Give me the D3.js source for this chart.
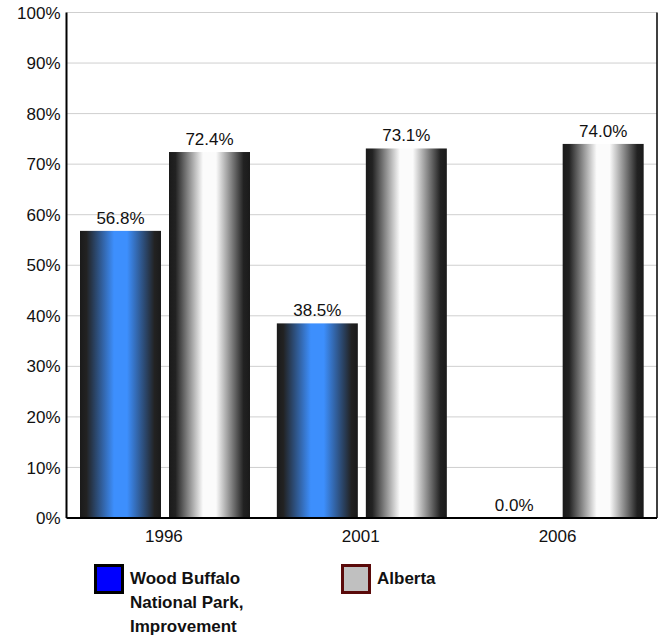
<!DOCTYPE html>
<meta charset="utf-8">
<script src="https://d3js.org/d3.v7.min.js"></script>
<style>
body { margin: 0; background: #fff; font-family: "Liberation Sans", Arial, sans-serif; }
</style>
<div id="chart"></div>
<script>

// data
var years = ["1996", "2001", "2006"];
var seriesNames = ["Wood Buffalo National Park, Improvement", "Alberta"];
var woodBuffalo = [56.8, 38.5, 0.0];
var alberta = [72.4, 73.1, 74.0];
var yTicks = [0, 10, 20, 30, 40, 50, 60, 70, 80, 90, 100];

var W = 663, H = 641;
var margin = {top: 12.5, right: 6, bottom: 123, left: 66.5};
var width = W - margin.left - margin.right,
    height = H - margin.top - margin.bottom;

var svg = d3.select("#chart").append("svg")
  .attr("width", W).attr("height", H);

// gradients for the bars (dark edges, bright middle)
var defs = svg.append("defs");
function addGrad(id, mid) {
  var g = defs.append("linearGradient").attr("id", id)
    .attr("x1", "0%").attr("x2", "100%").attr("y1", "0%").attr("y2", "0%");
  g.append("stop").attr("offset", "0%").attr("stop-color", "#1a1a1a");
  g.append("stop").attr("offset", "8%").attr("stop-color", "#222");
  g.append("stop").attr("offset", "42%").attr("stop-color", mid);
  g.append("stop").attr("offset", "58%").attr("stop-color", mid);
  g.append("stop").attr("offset", "92%").attr("stop-color", "#222");
  g.append("stop").attr("offset", "100%").attr("stop-color", "#1a1a1a");
}
addGrad("gBlue", "#3d8ffd");
addGrad("gWhite", "#fbfbfb");

var g = svg.append("g")
  .attr("transform", "translate(" + margin.left + "," + margin.top + ")");

var x0 = d3.scaleBand().domain(years).range([0, width]);
var x1 = d3.scaleBand().domain(seriesNames).range([13.5, 183.5]).paddingInner(8 / 89);
var y = d3.scaleLinear().domain([0, 100]).range([height, 0]);

// gridlines
g.selectAll(".grid").data(yTicks).enter().append("line")
  .attr("x1", 0).attr("x2", width)
  .attr("y1", function(d) { return y(d); })
  .attr("y2", function(d) { return y(d); })
  .attr("stroke", "#cfcfcf").attr("stroke-width", 1);

// y tick labels
g.selectAll(".ylab").data(yTicks).enter().append("text")
  .attr("x", -6)
  .attr("y", function(d) { return y(d); })
  .attr("dy", "0.36em")
  .attr("text-anchor", "end")
  .style("font-size", "17px")
  .attr("fill", "#111")
  .text(function(d) { return d + "%"; });

// bars
var rows = [];
years.forEach(function(yr, i) {
  rows.push({year: yr, s: seriesNames[0], v: woodBuffalo[i], fill: "url(#gBlue)"});
  rows.push({year: yr, s: seriesNames[1], v: alberta[i], fill: "url(#gWhite)"});
});

g.selectAll(".bar").data(rows).enter().append("rect")
  .attr("x", function(d) { return x0(d.year) + x1(d.s); })
  .attr("width", x1.bandwidth())
  .attr("y", function(d) { return y(d.v); })
  .attr("height", function(d) { return height - y(d.v); })
  .attr("fill", function(d) { return d.fill; });

g.selectAll(".vlab").data(rows).enter().append("text")
  .attr("x", function(d) { return x0(d.year) + x1(d.s) + x1.bandwidth() / 2; })
  .attr("y", function(d) { return y(d.v) - 7; })
  .attr("text-anchor", "middle")
  .style("font-size", "17px")
  .attr("fill", "#111")
  .text(function(d) { return d.v.toFixed(1) + "%"; });

// axis lines
g.append("line").attr("x1", 0).attr("x2", 0).attr("y1", 0).attr("y2", height)
  .attr("stroke", "#000").attr("stroke-width", 2);
g.append("line").attr("x1", width).attr("x2", width).attr("y1", 0).attr("y2", height)
  .attr("stroke", "#000").attr("stroke-width", 1.5);
g.append("line").attr("x1", 0).attr("x2", width).attr("y1", height).attr("y2", height)
  .attr("stroke", "#000").attr("stroke-width", 2);

// x labels
g.selectAll(".xlab").data(years).enter().append("text")
  .attr("x", function(d) { return x0(d) + x0.bandwidth() / 2 - 1; })
  .attr("y", height + 24)
  .attr("text-anchor", "middle")
  .style("font-size", "17px")
  .attr("fill", "#111")
  .text(function(d) { return d; });

// legend
var legend = [
  {x: 95.5, fill: "#0000ff", stroke: "#000", lines: ["Wood Buffalo", "National Park,", "Improvement"]},
  {x: 342.5, fill: "#c0c0c0", stroke: "#5a0a0a", lines: ["Alberta"]}
];
var lg = svg.selectAll(".leg").data(legend).enter().append("g")
  .attr("transform", function(d) { return "translate(" + d.x + ",565.5)"; });
lg.append("rect").attr("width", 27).attr("height", 27)
  .attr("fill", function(d) { return d.fill; })
  .attr("stroke", function(d) { return d.stroke; })
  .attr("stroke-width", 3);
lg.append("text")
  .attr("x", 34.5).attr("y", 18.5)
  .style("font-size", "17px").style("font-weight", "bold")
  .attr("fill", "#111")
  .selectAll("tspan").data(function(d) { return d.lines; }).enter().append("tspan")
  .attr("x", 34.5)
  .attr("dy", function(d, i) { return i === 0 ? 0 : 24; })
  .text(function(d) { return d; });

</script>
